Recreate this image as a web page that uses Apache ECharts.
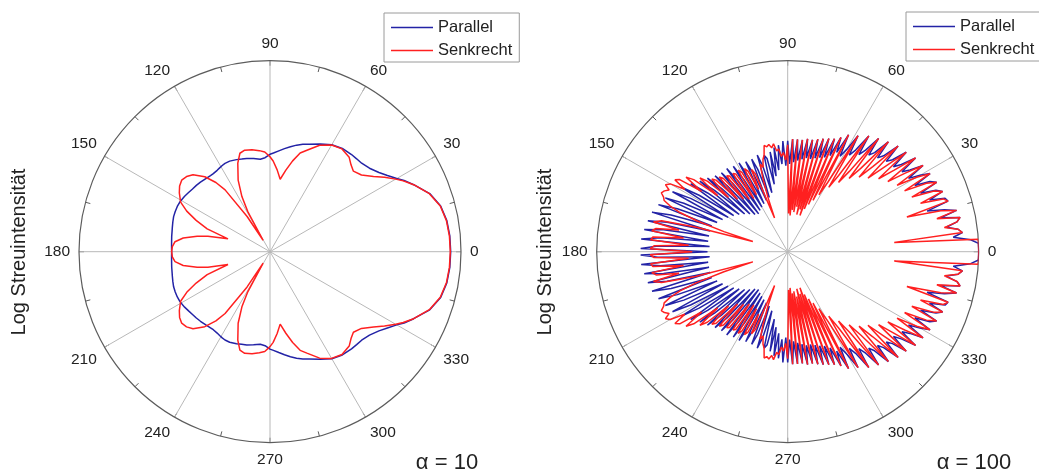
<!DOCTYPE html>
<html>
<head>
<meta charset="utf-8">
<script src="https://cdn.jsdelivr.net/npm/echarts@6/dist/echarts.min.js"></script>
<style>
html, body { margin: 0; padding: 0; background: #fff; }
#chart { width: 1039px; height: 473px; }
</style>
</head>
<body>
<div id="chart"></div>
<script>
// alpha = 10, upper half (0..180 deg), radius as fraction of the plot radius
var leftAngles = [0, 5, 10, 15, 20, 25, 28, 30, 33, 36, 40, 44, 47, 50, 55, 60, 65, 70, 73, 76, 79, 82, 85, 88, 90,
  93, 96, 100, 104, 107, 110, 114, 117, 119, 121, 123, 126, 128, 131, 135, 138, 141, 144, 147, 151, 154, 157,
  160, 163, 166, 168, 171, 174, 177, 180];
var leftPar = [0.946, 0.945, 0.94, 0.925, 0.89, 0.83, 0.795, 0.766, 0.733, 0.705, 0.68, 0.667, 0.665, 0.664, 0.66,
  0.647, 0.622, 0.598, 0.588, 0.575, 0.56, 0.545, 0.53, 0.517, 0.51, 0.493, 0.487, 0.495, 0.503, 0.507, 0.513,
  0.519, 0.519, 0.516, 0.512, 0.508, 0.505, 0.506, 0.509, 0.515, 0.519, 0.522, 0.527, 0.533, 0.539, 0.54, 0.539,
  0.537, 0.532, 0.527, 0.524, 0.521, 0.518, 0.516, 0.515];
var leftSenk = [0.944, 0.943, 0.938, 0.923, 0.888, 0.83, 0.79, 0.76, 0.715, 0.67, 0.625, 0.607, 0.622, 0.645, 0.657,
  0.645, 0.615, 0.565, 0.54, 0.49, 0.435, 0.383, 0.43, 0.475, 0.497, 0.523, 0.532, 0.542, 0.548, 0.539, 0.493,
  0.41, 0.324, 0.24, 0.07, 0.22, 0.4, 0.46, 0.52, 0.57, 0.588, 0.595, 0.585, 0.566, 0.535, 0.485, 0.42,
  0.35, 0.23, 0.335, 0.39, 0.46, 0.5, 0.512, 0.515];

// alpha = 100, upper half, 1.25 deg steps (one row = 10 deg)
var rightAngles = [
  0, 1.25, 2.5, 3.75, 5, 6.25, 7.5, 8.75,
  10, 11.25, 12.5, 13.75, 15, 16.25, 17.5, 18.75,
  20, 21.25, 22.5, 23.75, 25, 26.25, 27.5, 28.75,
  30, 31.25, 32.5, 33.75, 35, 36.25, 37.5, 38.75,
  40, 41.25, 42.5, 43.75, 45, 46.25, 47.5, 48.75,
  50, 51.25, 52.5, 53.75, 55, 56.25, 57.5, 58.75,
  60, 61.25, 62.5, 63.75, 65, 66.25, 67.5, 68.75,
  70, 71.25, 72.5, 73.75, 75, 76.25, 77.5, 78.75,
  80, 81.25, 82.5, 83.75, 85, 86.25, 87.5, 88.75,
  90, 91.25, 92.5, 93.75, 95, 96.25, 97.5, 98.75,
  100, 101.25, 102.5, 103.75, 105, 106.25, 107.5, 108.75,
  110, 111.25, 112.5, 113.75, 115, 116.25, 117.5, 118.75,
  120, 121.25, 122.5, 123.75, 125, 126.25, 127.5, 128.75,
  130, 131.25, 132.5, 133.75, 135, 136.25, 137.5, 138.75,
  140, 141.25, 142.5, 143.75, 145, 146.25, 147.5, 148.75,
  150, 151.25, 152.5, 153.75, 155, 156.25, 157.5, 158.75,
  160, 161.25, 162.5, 163.75, 165, 166.25, 167.5, 168.75,
  170, 171.25, 172.5, 173.75, 175, 176.25, 177.5, 178.75,
  180];
var rightPar = [
  1.0, 1.0, 1.0, 0.96, 0.87, 0.92, 0.9, 0.84,
  0.9, 0.92, 0.82, 0.91, 0.85, 0.76, 0.88, 0.87,
  0.79, 0.87, 0.84, 0.76, 0.86, 0.83, 0.75, 0.85,
  0.8, 0.74, 0.84, 0.77, 0.73, 0.83, 0.75, 0.71,
  0.81, 0.73, 0.7, 0.8, 0.71, 0.68, 0.78, 0.69,
  0.66, 0.76, 0.67, 0.63, 0.74, 0.64, 0.6, 0.71,
  0.62, 0.57, 0.69, 0.58, 0.66, 0.55, 0.64, 0.53,
  0.63, 0.52, 0.62, 0.51, 0.61, 0.5, 0.6, 0.5,
  0.6, 0.49, 0.59, 0.48, 0.59, 0.47, 0.59, 0.46,
  0.58, 0.45, 0.58, 0.46, 0.56, 0.43, 0.55, 0.4,
  0.53, 0.36, 0.5, 0.52, 0.32, 0.47, 0.53, 0.3,
  0.46, 0.52, 0.29, 0.45, 0.52, 0.28, 0.44, 0.53,
  0.27, 0.44, 0.53, 0.26, 0.45, 0.54, 0.25, 0.46,
  0.54, 0.26, 0.47, 0.55, 0.28, 0.48, 0.57, 0.3,
  0.5, 0.59, 0.32, 0.52, 0.62, 0.34, 0.55, 0.65,
  0.36, 0.58, 0.68, 0.38, 0.6, 0.7, 0.4, 0.62,
  0.72, 0.42, 0.64, 0.74, 0.42, 0.65, 0.75, 0.42,
  0.66, 0.76, 0.42, 0.67, 0.77, 0.41, 0.68, 0.77,
  0.42];
var rightSenk = [
  1.0, 1.0, 1.0, 1.0, 0.56, 0.92, 0.9, 0.83,
  0.9, 0.92, 0.8, 0.91, 0.83, 0.65, 0.88, 0.86,
  0.74, 0.87, 0.83, 0.71, 0.86, 0.81, 0.69, 0.85,
  0.78, 0.67, 0.84, 0.74, 0.64, 0.83, 0.7, 0.61,
  0.81, 0.67, 0.57, 0.8, 0.63, 0.54, 0.78, 0.58,
  0.5, 0.76, 0.53, 0.45, 0.74, 0.48, 0.4, 0.71,
  0.42, 0.34, 0.69, 0.3, 0.66, 0.27, 0.64, 0.24,
  0.63, 0.2, 0.62, 0.23, 0.61, 0.2, 0.6, 0.24,
  0.6, 0.21, 0.59, 0.22, 0.59, 0.19, 0.59, 0.2,
  0.56, 0.48, 0.52, 0.5, 0.54, 0.53, 0.57, 0.55,
  0.57, 0.56, 0.57, 0.52, 0.5, 0.46, 0.48, 0.4,
  0.3, 0.19, 0.44, 0.47, 0.36, 0.47, 0.49, 0.34,
  0.48, 0.5, 0.33, 0.49, 0.5, 0.34, 0.5, 0.51,
  0.36, 0.51, 0.53, 0.38, 0.53, 0.55, 0.42, 0.56,
  0.6, 0.47, 0.62, 0.66, 0.55, 0.68, 0.7, 0.63,
  0.71, 0.73, 0.7, 0.72, 0.73, 0.71, 0.7, 0.66,
  0.6, 0.5, 0.35, 0.19, 0.5, 0.68, 0.72, 0.58,
  0.7, 0.72, 0.55, 0.71, 0.72, 0.52, 0.7, 0.72,
  0.5];

var BLUE = '#2323a6';
var RED = '#ff2020';

// the curves are symmetric about the 0-180 axis
function mirror(angles, values) {
  var out = [];
  for (var i = 0; i < angles.length; i++) out.push([values[i], angles[i]]);
  for (var j = angles.length - 2; j >= 0; j--) out.push([values[j], 360 - angles[j]]);
  return out;
}

function angleAxis(idx) {
  return {
    polarIndex: idx,
    type: 'value',
    min: 0,
    max: 360,
    interval: 30,
    startAngle: 0,
    clockwise: false,
    axisLine: { show: true, lineStyle: { color: '#5c5c5c', width: 1.2 } },
    axisTick: { show: true, inside: true, length: 5, lineStyle: { color: '#5c5c5c' } },
    minorTick: { show: true, splitNumber: 2, length: 5, lineStyle: { color: '#5c5c5c' } },
    splitLine: { show: true, lineStyle: { color: '#b8b8b8', width: 1 } },
    axisLabel: {
      margin: 9, fontSize: 15.5, color: '#222', fontFamily: 'Liberation Sans',
      formatter: function (v) { return v === 360 ? '' : String(v); }
    }
  };
}

function radiusAxis(idx) {
  return {
    polarIndex: idx, type: 'value', min: 0, max: 1,
    axisLine: { show: false }, axisTick: { show: false },
    axisLabel: { show: false }, splitLine: { show: false }
  };
}

function legend(left, top) {
  return {
    data: ['Parallel', 'Senkrecht'],
    orient: 'vertical',
    left: left,
    top: top,
    // thin bar as a line sample
    icon: 'path://M0,0H42V1.5H0Z',
    symbolKeepAspect: true,
    itemWidth: 42,
    itemHeight: 14,
    itemGap: 6,
    padding: [6, 7, 3, 7],
    borderColor: '#9a9a9a',
    borderWidth: 1,
    backgroundColor: '#fff',
    textStyle: { fontSize: 16.5, color: '#222', fontFamily: 'Liberation Sans' }
  };
}

function line(name, color, polarIdx, data) {
  return {
    name: name, type: 'line', coordinateSystem: 'polar', polarIndex: polarIdx,
    symbol: 'none', smooth: false, clip: false,
    lineStyle: { color: color, width: 1.5 }, itemStyle: { color: color },
    data: data
  };
}

var chart = echarts.init(document.getElementById('chart'));
chart.setOption({
  animation: false,
  polar: [
    { center: [270, 251.7], radius: 191 },
    { center: [787.7, 251.7], radius: 191 }
  ],
  angleAxis: [angleAxis(0), angleAxis(1)],
  radiusAxis: [radiusAxis(0), radiusAxis(1)],
  legend: [legend(384, 13), legend(906, 12)],
  series: [
    line('Parallel', BLUE, 0, mirror(leftAngles, leftPar)),
    line('Senkrecht', RED, 0, mirror(leftAngles, leftSenk)),
    line('Parallel', BLUE, 1, mirror(rightAngles, rightPar)),
    line('Senkrecht', RED, 1, mirror(rightAngles, rightSenk))
  ],
  graphic: [
    { type: 'text', x: 19, y: 252, rotation: Math.PI / 2,
      style: { text: 'Log Streuintensität', font: '20px "Liberation Sans"', fill: '#222', align: 'center', verticalAlign: 'middle' } },
    { type: 'text', x: 545, y: 252, rotation: Math.PI / 2,
      style: { text: 'Log Streuintensität', font: '20px "Liberation Sans"', fill: '#222', align: 'center', verticalAlign: 'middle' } },
    { type: 'text', x: 447, y: 463,
      style: { text: 'α = 10', font: '22px "Liberation Sans"', fill: '#222', align: 'center', verticalAlign: 'middle' } },
    { type: 'text', x: 974, y: 463,
      style: { text: 'α = 100', font: '22px "Liberation Sans"', fill: '#222', align: 'center', verticalAlign: 'middle' } }
  ]
});
</script>
</body>
</html>
